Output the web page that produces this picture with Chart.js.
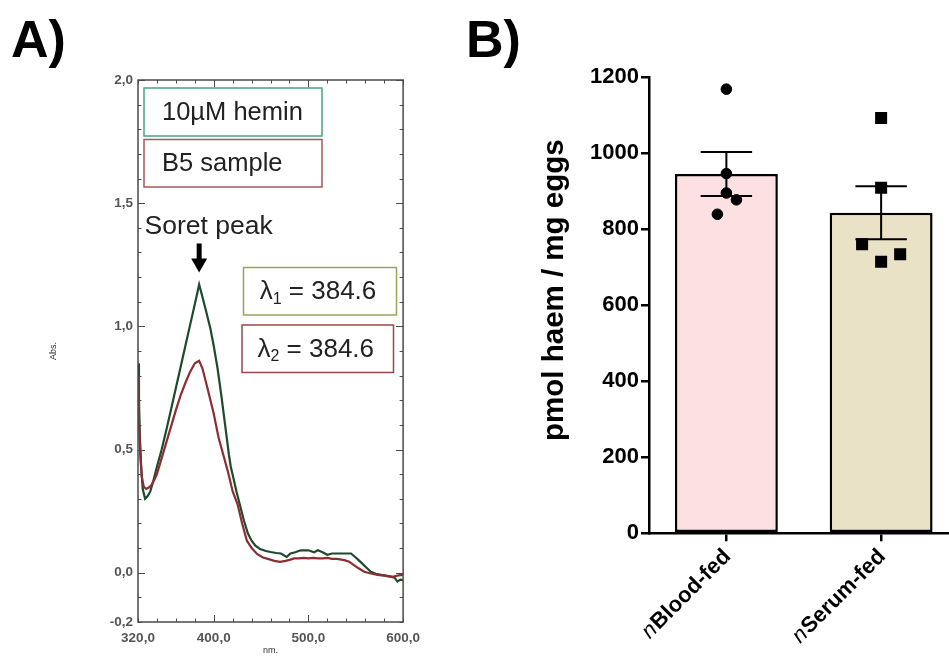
<!DOCTYPE html>
<html>
<head>
<meta charset="utf-8">
<title>Haem: hemin spectrum and egg haem content</title>
<script src="https://cdn.jsdelivr.net/npm/chart.js@4.4.1/dist/chart.umd.min.js"></script>
<style>
  html, body { margin: 0; padding: 0; background: #fff; overflow: hidden; }
  #wrap { position: relative; width: 949px; height: 656px; overflow: hidden; background: #fff; }
  canvas { position: absolute; top: 0; }
  #specCanvas { left: 0; }
  #barCanvas { left: 440px; }
  .panel { position: absolute; top: 9px; margin: 0; line-height: 52px;
           font: bold 52px 'Liberation Sans', Arial, Helvetica, sans-serif; color: #000; }
</style>
</head>
<body>
<div id="wrap">
  <canvas id="specCanvas" width="428" height="656"></canvas>
  <canvas id="barCanvas" width="527" height="656"></canvas>
  <div class="panel" style="left:11px">A)</div>
  <div class="panel" style="left:466px">B)</div>
</div>
<script>
// ---- Panel A: UV-vis spectra (absorbance vs wavelength, nm) ----
const heminNm = [320, 321, 322, 323.5, 325, 327.5, 330, 333, 336, 340, 345, 350, 355, 360, 365,
  370, 375, 380, 384.6, 388, 392, 396.5, 400, 404, 408, 412, 416, 418, 421, 424, 428, 432, 436, 440,
  444, 449, 455, 460, 466, 471, 477, 481, 486, 492, 500, 506, 510, 515, 520, 525, 532, 540, 545, 550,
  555, 560, 566, 571, 577, 582, 587, 591, 594, 597, 600];
const heminAbs = [0.85, 0.70, 0.55, 0.42, 0.34, 0.30, 0.31, 0.33, 0.37, 0.43, 0.50, 0.58, 0.665, 0.75,
  0.835, 0.92, 1.005, 1.09, 1.17, 1.12, 1.06, 0.99, 0.92, 0.83, 0.72, 0.60, 0.48, 0.43, 0.38, 0.33,
  0.27, 0.21, 0.16, 0.13, 0.11, 0.096, 0.088, 0.084, 0.080, 0.078, 0.064, 0.078, 0.083, 0.091, 0.091,
  0.083, 0.091, 0.083, 0.073, 0.078, 0.078, 0.078, 0.078, 0.062, 0.044, 0.025, 0.004, -0.004, -0.009,
  -0.012, -0.016, -0.02, -0.036, -0.028, -0.03];
const b5Nm = [320, 321, 322.5, 324, 326, 328.5, 331, 334, 337, 340, 345, 350, 355, 360, 365, 370, 375,
  380, 384.6, 388, 392, 396.5, 400, 405, 410, 415, 420, 425, 430, 435, 440, 446, 452, 458, 464, 470,
  476, 480, 485, 490, 495, 500, 505, 510, 515, 520, 525, 530, 538, 543, 548, 553, 559, 565, 573, 580,
  586, 590, 594, 598, 600];
const b5Abs = [0.80, 0.62, 0.47, 0.39, 0.35, 0.34, 0.345, 0.355, 0.375, 0.40, 0.465, 0.53, 0.595, 0.66,
  0.72, 0.77, 0.815, 0.85, 0.86, 0.83, 0.77, 0.70, 0.645, 0.55, 0.48, 0.41, 0.33, 0.28, 0.20, 0.13,
  0.10, 0.075, 0.062, 0.055, 0.048, 0.044, 0.048, 0.052, 0.058, 0.058, 0.06, 0.058, 0.06, 0.058, 0.058,
  0.06, 0.056, 0.056, 0.051, 0.045, 0.031, 0.018, 0.004, -0.002, -0.009, -0.012, -0.016, -0.016,
  -0.012, -0.009, -0.01];
const peakNm = [384.6, 384.6];           // Soret maxima: λ1 (hemin), λ2 (B5)
const specXTicks = [320, 400, 500, 600];
const specYTicks = [-0.2, 0, 0.5, 1.0, 1.5, 2.0];

// ---- Panel B: haem content of eggs ----
const groupLabels = ['nBlood-fed', 'nSerum-fed'];
const groupMeans = [945, 843];
const groupSem = [58, 70];
const bloodFed = [1168, 946, 895, 877, 839];
const serumFed = [1092, 909, 760, 734, 714];
const haemTicks = [0, 200, 400, 600, 800, 1000, 1200];
const haemTitle = 'pmol haem / mg eggs';

// horizontal spread of the individual points within each column (category units)
const bloodSpread = [0, 0, 0, 0.065, -0.058];
const serumSpread = [0, 0, -0.123, 0.123, 0];

const FONT = "'Liberation Sans', Arial, Helvetica, sans-serif";
Chart.defaults.font.family = FONT;

const GREEN = '#1d4a2b';
const RED = '#8e2d31';
const comma = v => Number(v).toFixed(1).replace('.', ',');
const zip = (xs, ys) => xs.map((x, i) => ({ x: x, y: ys[i] }));

// box frame with inward tick marks on all four sides
const frameTicks = {
  id: 'frameTicks',
  afterDraw(chart) {
    const { ctx, chartArea: ca, scales: { x, y } } = chart;
    ctx.save();
    ctx.strokeStyle = '#4a4a4a';
    ctx.lineWidth = 1;
    ctx.beginPath();
    for (let v = 320; v <= 600; v += 20) {
      const px = Math.round(x.getPixelForValue(v)) + 0.5;
      const len = (v === 400 || v === 500) ? 7 : 3.5;
      ctx.moveTo(px, ca.bottom); ctx.lineTo(px, ca.bottom - len);
      ctx.moveTo(px, ca.top); ctx.lineTo(px, ca.top + len);
    }
    for (let k = -2; k <= 20; k++) {
      const py = Math.round(y.getPixelForValue(k / 10)) + 0.5;
      const len = (k % 5 === 0) ? 7 : 3.5;
      ctx.moveTo(ca.left, py); ctx.lineTo(ca.left + len, py);
      ctx.moveTo(ca.right, py); ctx.lineTo(ca.right - len, py);
    }
    ctx.stroke();
    ctx.lineWidth = 1.5;
    ctx.strokeRect(ca.left, ca.top, ca.right - ca.left, ca.bottom - ca.top);
    ctx.restore();
  }
};

// legend boxes, Soret-peak arrow and λmax boxes
const specNotes = {
  id: 'specNotes',
  afterDraw(chart) {
    const { ctx, chartArea: ca, scales: { x, y } } = chart;
    const L = ca.left, T = ca.top;
    ctx.save();
    ctx.fillStyle = '#222';
    ctx.textBaseline = 'middle';
    const box = (bx, by, w, h, color) => {
      ctx.fillStyle = '#fff';
      ctx.fillRect(bx, by, w, h);
      ctx.strokeStyle = color;
      ctx.lineWidth = 1.5;
      ctx.strokeRect(bx, by, w, h);
      ctx.fillStyle = '#222';
    };
    ctx.font = '25.5px ' + FONT;
    box(L + 6, T + 8, 178, 48, '#4aa283');
    ctx.textAlign = 'left';
    ctx.fillText('10µM hemin', L + 24, T + 33);
    box(L + 6, T + 59.5, 178, 47.5, '#a2585c');
    ctx.fillText('B5 sample', L + 24, T + 84);

    ctx.font = '26.5px ' + FONT;
    ctx.fillText('Soret peak', L + 6.5, T + 147);

    // arrow pointing at the hemin maximum
    const ax = x.getPixelForValue(peakNm[0]);
    const tip = y.getPixelForValue(heminAbs[heminNm.indexOf(peakNm[0])]) - 12;
    ctx.fillStyle = '#000';
    ctx.fillRect(ax - 2.5, tip - 29, 5, 16);
    ctx.beginPath();
    ctx.moveTo(ax - 8, tip - 14);
    ctx.lineTo(ax + 8, tip - 14);
    ctx.lineTo(ax, tip);
    ctx.closePath();
    ctx.fill();

    const lambda = (bx, by, w, h, color, sub, val) => {
      box(bx, by, w, h, color);
      const big = '26px ' + FONT, small = '16px ' + FONT;
      ctx.font = big; const w1 = ctx.measureText('λ').width;
      const rest = ' = ' + val.toFixed(1);
      const w3 = ctx.measureText(rest).width;
      ctx.font = small; const w2 = ctx.measureText(sub).width;
      let tx = bx + (w - (w1 + w2 + w3)) / 2 - 2;
      const cy = by + h / 2 + 1;
      ctx.textAlign = 'left';
      ctx.font = big; ctx.fillText('λ', tx, cy);
      ctx.font = small; ctx.fillText(sub, tx + w1, cy + 7);
      ctx.font = big; ctx.fillText(rest, tx + w1 + w2, cy);
    };
    lambda(L + 105.5, T + 187.5, 153, 47.5, '#97a45c', '1', peakNm[0]);
    lambda(L + 104, T + 245, 151.5, 47.5, '#9a474b', '2', peakNm[1]);
    ctx.restore();
  }
};

new Chart(document.getElementById('specCanvas'), {
  type: 'line',
  data: {
    datasets: [
      { label: 'B5 sample', data: zip(b5Nm, b5Abs), borderColor: RED, borderWidth: 2.2,
        pointRadius: 0, tension: 0, fill: false },
      { label: '10µM hemin', data: zip(heminNm, heminAbs), borderColor: GREEN, borderWidth: 2.2,
        pointRadius: 0, tension: 0, fill: false }
    ]
  },
  options: {
    responsive: false, animation: false, events: [],
    layout: { padding: { left: 44, top: 80, right: 17, bottom: 0 } },
    plugins: { legend: { display: false }, tooltip: { enabled: false } },
    scales: {
      x: {
        type: 'linear', min: 320, max: 600,
        afterBuildTicks: s => { s.ticks = specXTicks.map(v => ({ value: v })); },
        afterFit: s => { s.height = 34; },
        grid: { display: false, drawTicks: false },
        border: { display: false },
        ticks: { callback: v => comma(v), font: { size: 13.5, weight: 'bold' }, color: '#555',
                 padding: 8, maxRotation: 0, autoSkip: false },
        title: { display: true, text: 'nm.', font: { size: 9 }, color: '#333', padding: 0 }
      },
      y: {
        min: -0.2, max: 2.0,
        afterBuildTicks: s => { s.ticks = specYTicks.map(v => ({ value: v })); },
        afterFit: s => { s.width = 94; },
        grid: { display: false, drawTicks: false },
        border: { display: false },
        ticks: { callback: v => comma(v), font: { size: 13.5, weight: 'bold' }, color: '#555', padding: 5 },
        title: { display: true, text: 'Abs.', font: { size: 9 }, color: '#333' }
      }
    }
  },
  plugins: [frameTicks, specNotes]
});

// SEM whiskers, y title and rotated group names (leading italic letter)
const semBars = {
  id: 'semBars',
  afterDatasetsDraw(chart) {
    const { ctx, scales: { y } } = chart;
    const bars = chart.getDatasetMeta(0).data;
    ctx.save();
    ctx.strokeStyle = '#000';
    ctx.lineWidth = 2;
    bars.forEach((bar, i) => {
      const cx = bar.x, half = bar.width / 4;
      const hi = y.getPixelForValue(groupMeans[i] + groupSem[i]);
      const lo = y.getPixelForValue(groupMeans[i] - groupSem[i]);
      ctx.beginPath();
      ctx.moveTo(cx, hi); ctx.lineTo(cx, lo);
      ctx.moveTo(cx - half, hi); ctx.lineTo(cx + half, hi);
      ctx.moveTo(cx - half, lo); ctx.lineTo(cx + half, lo);
      ctx.stroke();
    });
    ctx.restore();
  },
  afterDraw(chart) {
    const { ctx, chartArea: ca, scales: { x } } = chart;
    ctx.save();
    ctx.fillStyle = '#000';
    ctx.textBaseline = 'middle';
    ctx.textAlign = 'right';
    groupLabels.forEach((lab, i) => {
      const px = x.getPixelForValue(i);
      ctx.save();
      ctx.translate(px + 1, x.top + 20);
      ctx.rotate(-Math.PI / 4);
      ctx.font = 'bold 22px ' + FONT;
      const body = lab.slice(1);
      ctx.fillText(body, 0, 0);
      const w = ctx.measureText(body).width;
      ctx.font = 'italic 22px ' + FONT;
      ctx.fillText(lab[0], -w - 1, 0);
      ctx.restore();
    });
    // value-axis title
    ctx.save();
    ctx.translate(115, (ca.top + ca.bottom) / 2 - 15);
    ctx.rotate(-Math.PI / 2);
    ctx.textAlign = 'center';
    ctx.font = 'bold 29.5px ' + FONT;
    ctx.fillText(haemTitle, 0, 0);
    ctx.restore();
    ctx.restore();
  }
};

new Chart(document.getElementById('barCanvas'), {
  type: 'bar',
  data: {
    labels: groupLabels,
    datasets: [
      { type: 'bar', data: groupMeans, xAxisID: 'x', yAxisID: 'y', order: 3, grouped: false,
        backgroundColor: ['#fde0e1', '#e9e2c6'], borderColor: '#000', borderWidth: 2.5,
        borderSkipped: false, barPercentage: 0.665, categoryPercentage: 1 },
      { type: 'scatter', data: bloodFed.map((v, i) => ({ x: 0 + bloodSpread[i], y: v })),
        xAxisID: 'xj', yAxisID: 'y', order: 1, pointStyle: 'circle', pointRadius: 5.3,
        backgroundColor: '#000', borderColor: '#000', borderWidth: 1 },
      { type: 'scatter', data: serumFed.map((v, i) => ({ x: 1 + serumSpread[i], y: v })),
        xAxisID: 'xj', yAxisID: 'y', order: 1, pointStyle: 'rect', pointRadius: 8.5,
        backgroundColor: '#000', borderColor: '#000', borderWidth: 0 }
    ]
  },
  options: {
    responsive: false, animation: false, events: [],
    layout: { padding: { left: 95, top: 77, right: 1, bottom: 0 } },
    plugins: { legend: { display: false }, tooltip: { enabled: false } },
    scales: {
      x: {
        type: 'category', offset: true, position: 'bottom', weight: 1,
        grid: { display: true, drawOnChartArea: false, drawTicks: true, tickLength: 8,
                offset: false, color: '#000', lineWidth: 2.5 },
        border: { display: true, color: '#000', width: 2.5 },
        ticks: { display: false },
        afterFit: s => { s.height = 122.7; }
      },
      // invisible companion axis spanning the same width, for the spread-out points
      xj: {
        type: 'linear', position: 'bottom', weight: 0, min: -0.5, max: 1.5, offset: false,
        grid: { display: false, drawTicks: false, offset: false }, border: { display: false },
        ticks: { display: false },
        afterFit: s => { s.height = 0; }
      },
      y: {
        min: 0, max: 1200,
        afterBuildTicks: s => { s.ticks = haemTicks.map(v => ({ value: v })); },
        afterFit: s => { s.width = 114; },
        grid: { drawOnChartArea: false, drawTicks: true, tickLength: 8, color: '#000', lineWidth: 2.5 },
        border: { display: true, color: '#000', width: 2.5 },
        ticks: { callback: v => String(v), font: { size: 22, weight: 'bold' }, color: '#000', padding: 2 }
      }
    }
  },
  plugins: [semBars]
});
</script>
</body>
</html>
